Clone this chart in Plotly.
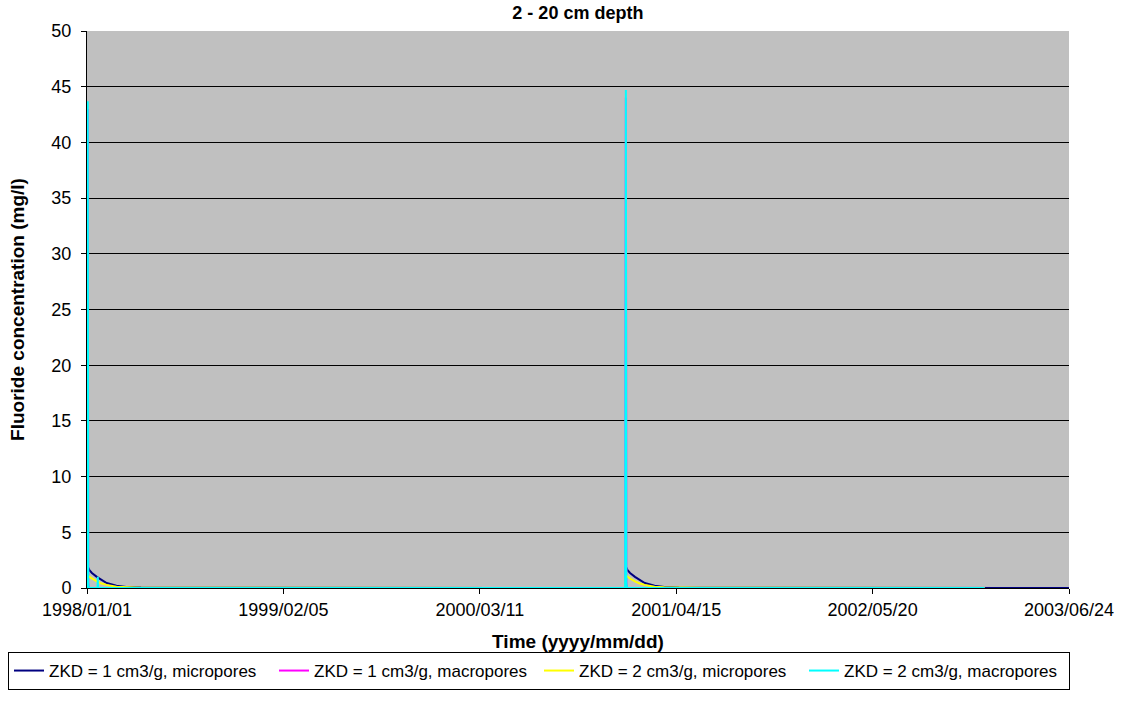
import pandas as pd
import plotly.graph_objects as go

# Start dates of the two fluoride application events
event_dates = ["1998-01-01", "2001-01-01"]
series_end = "2003-01-03"
navy_end = "2003-06-24"

# Days after each event for the slow micropore decay curves
micro_days = [0, 1.5, 5, 10, 20, 30, 40, 60, 80, 110, 155]
zkd1_micro = [0, 1.9, 1.6, 1.35, 1.0, 0.7, 0.45, 0.2, 0.1, 0.05, 0.03]
zkd2_micro = [0, 1.15, 1.0, 0.85, 0.6, 0.4, 0.28, 0.12, 0.06, 0.03, 0.02]

# Macropore breakthrough: sharp spike, then back to zero
macro_days = [0, 1.5, 2.5, 4]
zkd1_macro_peaks = [43.0, 44.0]
zkd2_macro_peaks = [43.7, 44.7]
macro_shape = [0, 1.0, 0.01, 0]
# Small secondary macropore pulse after the first event (ZKD = 2)
pulse_days = [21.5, 22, 22.5]
pulse_vals = [0, 1.0, 0]


def build(days, vals, peaks=None, extra=None, end=series_end):
    xs, ys = [], []
    for i, d0 in enumerate(event_dates):
        base = pd.Timestamp(d0)
        pts = list(zip(days, vals))
        if peaks is not None:
            pts = [(d, v * peaks[i]) for d, v in pts]
        if extra is not None and i == 0:
            pts += list(zip(*extra))
        pts.sort()
        for d, v in pts:
            xs.append(base + pd.Timedelta(hours=d * 24))
            ys.append(v)
        if i == 0:
            xs.append(pd.Timestamp(event_dates[1]) - pd.Timedelta(hours=1))
            ys.append(0)
    xs.append(pd.Timestamp(end))
    ys.append(0.0)
    return xs, ys


series = [
    ("ZKD = 1 cm3/g, micropores", "#000080", build(micro_days, zkd1_micro, end=navy_end)),
    ("ZKD = 1 cm3/g, macropores", "#FF00FF", build(macro_days, macro_shape, zkd1_macro_peaks)),
    ("ZKD = 2 cm3/g, micropores", "#FFFF00", build(micro_days, zkd2_micro)),
    ("ZKD = 2 cm3/g, macropores", "#00FFFF",
     build(macro_days, macro_shape, zkd2_macro_peaks, extra=(pulse_days, pulse_vals))),
]

fig = go.Figure()
for name, color, (xs, ys) in series:
    fig.add_trace(go.Scatter(x=xs, y=ys, mode="lines", name=name,
                             line=dict(color=color, width=2)))

font = "Liberation Sans, Arial, sans-serif"
day_ms = 86400000
plot_l, plot_r, plot_t, plot_b = 87, 1069, 31, 588
plot_w, plot_h = plot_r - plot_l, plot_b - plot_t

fig.update_layout(
    width=1132, height=702,
    margin=dict(l=plot_l, r=1132 - plot_r, t=plot_t, b=702 - plot_b, autoexpand=False),
    paper_bgcolor="white",
    plot_bgcolor="#C0C0C0",
    font=dict(family=font, size=18, color="black"),
    title=dict(text="<b>2 - 20 cm depth</b>", x=0.5105, xanchor="center",
               y=1 - 13 / 702, yanchor="middle", font=dict(size=18)),
    showlegend=True,
    legend=dict(orientation="h", xref="paper", yref="paper",
                x=(8 - plot_l) / plot_w, xanchor="left",
                y=(plot_b - 652) / plot_h, yanchor="top",
                bordercolor="black", borderwidth=1, bgcolor="white",
                font=dict(size=17), itemwidth=30, tracegroupgap=0,
                entrywidth=220, entrywidthmode="pixels"),
)

fig.update_xaxes(
    type="date", range=["1998-01-01", "2003-06-24"],
    tick0="1998-01-01", dtick=400 * day_ms, tickformat="%Y/%m/%d",
    ticks="outside", ticklen=5, tickcolor="black",
    showline=True, linecolor="black", linewidth=1,
    showgrid=False, zeroline=False, automargin=False,
    tickfont=dict(size=18),
    title=dict(text="<b>Time (yyyy/mm/dd)</b>", font=dict(size=19), standoff=16),
)
fig.update_yaxes(
    range=[0, 50], dtick=5, tick0=0,
    ticks="outside", ticklen=5, tickcolor="black",
    showline=True, linecolor="black", linewidth=1,
    showgrid=True, gridcolor="black", gridwidth=1, zeroline=False, automargin=False,
    tickfont=dict(size=18), ticklabelstandoff=6,
    title=dict(text="<b>Fluoride concentration (mg/l)</b>", font=dict(size=19), standoff=21),
)

fig.write_html("out.html")
